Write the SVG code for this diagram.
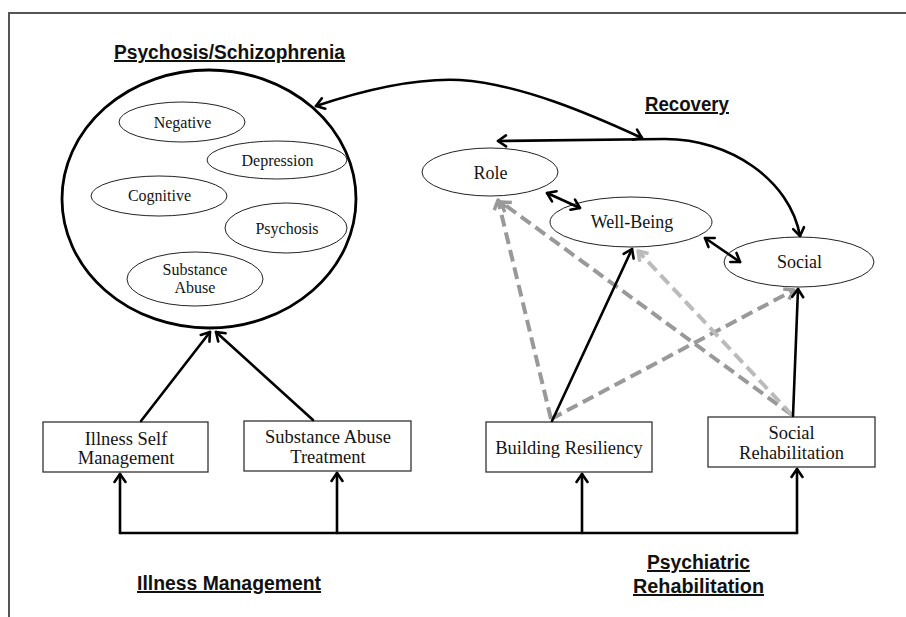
<svg xmlns="http://www.w3.org/2000/svg" width="906" height="617" viewBox="0 0 906 617">
<style>
.lbl{font-family:"Liberation Serif","Times New Roman",serif;fill:#141414;text-anchor:middle}
.s15{font-size:16px}
.s17{font-size:18px}
.s18{font-size:18.5px}
.hd{font-family:"Liberation Sans",Arial,sans-serif;font-weight:bold;font-size:20px;fill:#111;text-decoration:underline}
.inner{fill:#fff;stroke:#222;stroke-width:1}
.box{fill:#fff;stroke:#333;stroke-width:1.3}
.c{fill:none;stroke:#000;stroke-width:2.6;stroke-linecap:round}
.d1{fill:none;stroke:#999;stroke-width:4;stroke-dasharray:12 6}
.d2{fill:none;stroke:#bbb;stroke-width:4;stroke-dasharray:12 6}
</style>
<defs>
<marker id="ah" viewBox="-11 -7 13 14" refX="0" refY="0" markerWidth="13" markerHeight="14" markerUnits="userSpaceOnUse" orient="auto-start-reverse">
<path d="M-8,-5.5 L0,0 L-8,5.5" fill="none" stroke="#000" stroke-width="2.6" stroke-linecap="round" stroke-linejoin="round"/>
</marker>
<marker id="ag1" viewBox="-13 -8 15 16" refX="0" refY="0" markerWidth="15" markerHeight="16" markerUnits="userSpaceOnUse" orient="auto">
<path d="M-9,-6 L0,0 L-9,6" fill="none" stroke="#999" stroke-width="3.5" stroke-linejoin="round"/>
</marker>
<marker id="ag2" viewBox="-13 -8 15 16" refX="0" refY="0" markerWidth="15" markerHeight="16" markerUnits="userSpaceOnUse" orient="auto">
<path d="M-9,-6 L0,0 L-9,6" fill="none" stroke="#bbb" stroke-width="3.5" stroke-linejoin="round"/>
</marker>
</defs>
<rect width="906" height="617" fill="#fff"/>
<path d="M9,617 L9,13 L906,13" fill="none" stroke="#555" stroke-width="2"/>

<g id="titles">
<text class="hd" x="114" y="59" textLength="231" lengthAdjust="spacingAndGlyphs">Psychosis/Schizophrenia</text>
<text class="hd" x="645" y="111" textLength="84" lengthAdjust="spacingAndGlyphs">Recovery</text>
<text class="hd" x="137" y="590" textLength="184" lengthAdjust="spacingAndGlyphs">Illness Management</text>
<text class="hd" x="647" y="569" textLength="103" lengthAdjust="spacingAndGlyphs">Psychiatric</text>
<text class="hd" x="633" y="593" textLength="131" lengthAdjust="spacingAndGlyphs">Rehabilitation</text>
</g>

<g id="psychosis-schizophrenia">
<ellipse cx="209" cy="199" rx="147" ry="129" fill="#fff" stroke="#000" stroke-width="2.8"/>
</g>
<g id="negative"><ellipse class="inner" cx="182" cy="122" rx="63" ry="20"/><text class="lbl s15" x="182.5" y="128">Negative</text></g>
<g id="depression"><ellipse class="inner" cx="277" cy="160" rx="70" ry="19"/><text class="lbl s15" x="277.5" y="166">Depression</text></g>
<g id="cognitive"><ellipse class="inner" cx="159" cy="196" rx="68" ry="20"/><text class="lbl s15" x="159.5" y="201">Cognitive</text></g>
<g id="psychosis"><ellipse class="inner" cx="286" cy="228" rx="61" ry="25"/><text class="lbl s15" x="287" y="234">Psychosis</text></g>
<g id="substance-abuse"><ellipse class="inner" cx="195" cy="279" rx="68" ry="27"/><text class="lbl s15" x="195" y="275">Substance</text><text class="lbl s15" x="195" y="293">Abuse</text></g>

<g id="role"><ellipse class="inner" cx="490" cy="172" rx="68" ry="24"/><text class="lbl s17" x="490.5" y="179">Role</text></g>
<g id="well-being"><ellipse class="inner" cx="631" cy="222" rx="81" ry="25"/><text class="lbl s17" x="632" y="228">Well-Being</text></g>
<g id="social"><ellipse class="inner" cx="799" cy="262" rx="75" ry="25"/><text class="lbl s17" x="799.5" y="268">Social</text></g>

<g id="illness-self-management"><rect class="box" x="43" y="422" width="165" height="50"/><text class="lbl s18" x="126" y="445">Illness Self</text><text class="lbl s18" x="126" y="464">Management</text></g>
<g id="substance-abuse-treatment"><rect class="box" x="244" y="421" width="167" height="50"/><text class="lbl s18" x="328" y="443">Substance Abuse</text><text class="lbl s18" x="328" y="463">Treatment</text></g>
<g id="building-resiliency"><rect class="box" x="486" y="422" width="166" height="50"/><text class="lbl s18" x="569" y="454">Building Resiliency</text></g>
<g id="social-rehabilitation"><rect class="box" x="708" y="417" width="167" height="50"/><text class="lbl s18" x="791.5" y="439">Social</text><text class="lbl s18" x="791.5" y="459">Rehabilitation</text></g>

<g id="connectors">
<path class="d1" d="M551,419 L498,200" marker-end="url(#ag1)"/>
<path class="d1" d="M551,419 L794,290" marker-end="url(#ag1)"/>
<path class="d1" d="M792,415 L501,202" marker-end="url(#ag1)"/>
<path class="d2" d="M792,415 L638,251" marker-end="url(#ag2)"/>
<path class="c" d="M552,421 L632,249" marker-end="url(#ah)"/>
<path class="c" d="M793,416 L798,289" marker-end="url(#ah)"/>
<path class="c" d="M547,193 L580,208" marker-start="url(#ah)" marker-end="url(#ah)"/>
<path class="c" d="M705,238 L740,262" marker-start="url(#ah)" marker-end="url(#ah)"/>
<path class="c" d="M316,106 C370,88 420,78 460,80 C520,84 590,114 642,138" marker-start="url(#ah)" marker-end="url(#ah)"/>
<path class="c" d="M800,236 C790,180 730,139 665,139 L498,141" marker-start="url(#ah)" marker-end="url(#ah)"/>
<path class="c" d="M141,421 L210,332" marker-end="url(#ah)"/>
<path class="c" d="M313,420 L216,332" marker-end="url(#ah)"/>
<path class="c" d="M120,533 L797,533"/>
<path class="c" d="M120,533 L120,474" marker-end="url(#ah)"/>
<path class="c" d="M337,533 L337,473" marker-end="url(#ah)"/>
<path class="c" d="M582,533 L582,474" marker-end="url(#ah)"/>
<path class="c" d="M797,533 L797,469" marker-end="url(#ah)"/>
</g>
</svg>
